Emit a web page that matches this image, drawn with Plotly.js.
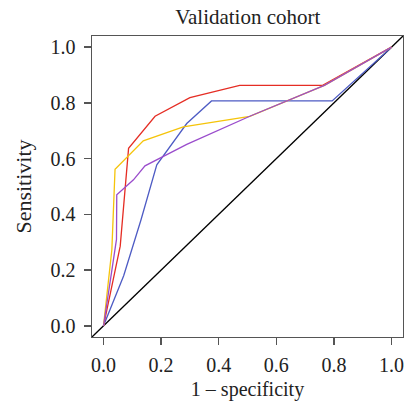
<!DOCTYPE html>
<html><head><meta charset="utf-8">
<script src="https://cdn.plot.ly/plotly-3.0.1.min.js"></script>
<style>html,body{margin:0;padding:0;background:#fff}#plot{width:415px;height:408px}</style>
</head><body><div id="plot"></div>
<script>
// ROC curves (1 - specificity, sensitivity)
const redX = [0, 0.058, 0.087, 0.179, 0.30, 0.473, 0.761, 1];
const redY = [0, 0.286, 0.637, 0.752, 0.819, 0.863, 0.863, 1];
const yellowX = [0, 0.029, 0.040, 0.138, 0.277, 0.508, 0.767, 1];
const yellowY = [0, 0.274, 0.562, 0.664, 0.714, 0.752, 0.863, 1];
const purpleX = [0, 0.045, 0.046, 0.104, 0.144, 0.289, 0.508, 0.767, 1];
const purpleY = [0, 0.31, 0.470, 0.524, 0.574, 0.651, 0.752, 0.863, 1];
const blueX = [0, 0.07, 0.13, 0.185, 0.289, 0.375, 0.794, 1];
const blueY = [0, 0.18, 0.38, 0.578, 0.726, 0.807, 0.807, 1];
const refX = [-0.04, 1.04];
const refY = [-0.04, 1.04];
const tickVals = [0, 0.2, 0.4, 0.6, 0.8, 1.0];
const tickText = ['0.0', '0.2', '0.4', '0.6', '0.8', '1.0'];

const font = 'Liberation Serif, Times New Roman, serif';
function tr(x, y, c) {
  return {x: x, y: y, mode: 'lines', type: 'scatter', line: {color: c, width: 1.3}, hoverinfo: 'skip'};
}
const data = [
  tr(refX, refY, '#000000'),
  tr(blueX, blueY, '#4d5bc4'),
  tr(redX, redY, '#e52d24'),
  tr(yellowX, yellowY, '#f5c40a'),
  tr(purpleX, purpleY, '#9a4ccc')
];
const axisCommon = {
  range: [-0.04, 1.04], tickvals: tickVals, ticktext: tickText,
  showgrid: false, zeroline: false, showline: true, mirror: true,
  linecolor: '#555', linewidth: 1.4, ticks: 'outside', ticklen: 7,
  tickcolor: '#555', tickwidth: 1.4,
  tickfont: {family: font, size: 20, color: '#222'}
};
const layout = {
  width: 415, height: 408,
  margin: {l: 92, r: 12, t: 36, b: 71},
  paper_bgcolor: '#fff', plot_bgcolor: '#fff',
  showlegend: false,
  title: {text: 'Validation cohort', font: {family: font, size: 21, color: '#222'}, x: 0.597, xanchor: 'center', y: 0.958, yanchor: 'middle'},
  xaxis: Object.assign({}, axisCommon, {ticklabelstandoff: 3, title: {text: '1 – specificity', font: {family: font, size: 20, color: '#222'}, standoff: 6}}),
  yaxis: Object.assign({}, axisCommon, {ticklabelstandoff: 4, title: {text: 'Sensitivity', font: {family: font, size: 22, color: '#222'}, standoff: 13}})
};
Plotly.newPlot('plot', data, layout, {displayModeBar: false, staticPlot: true});
</script></body></html>
